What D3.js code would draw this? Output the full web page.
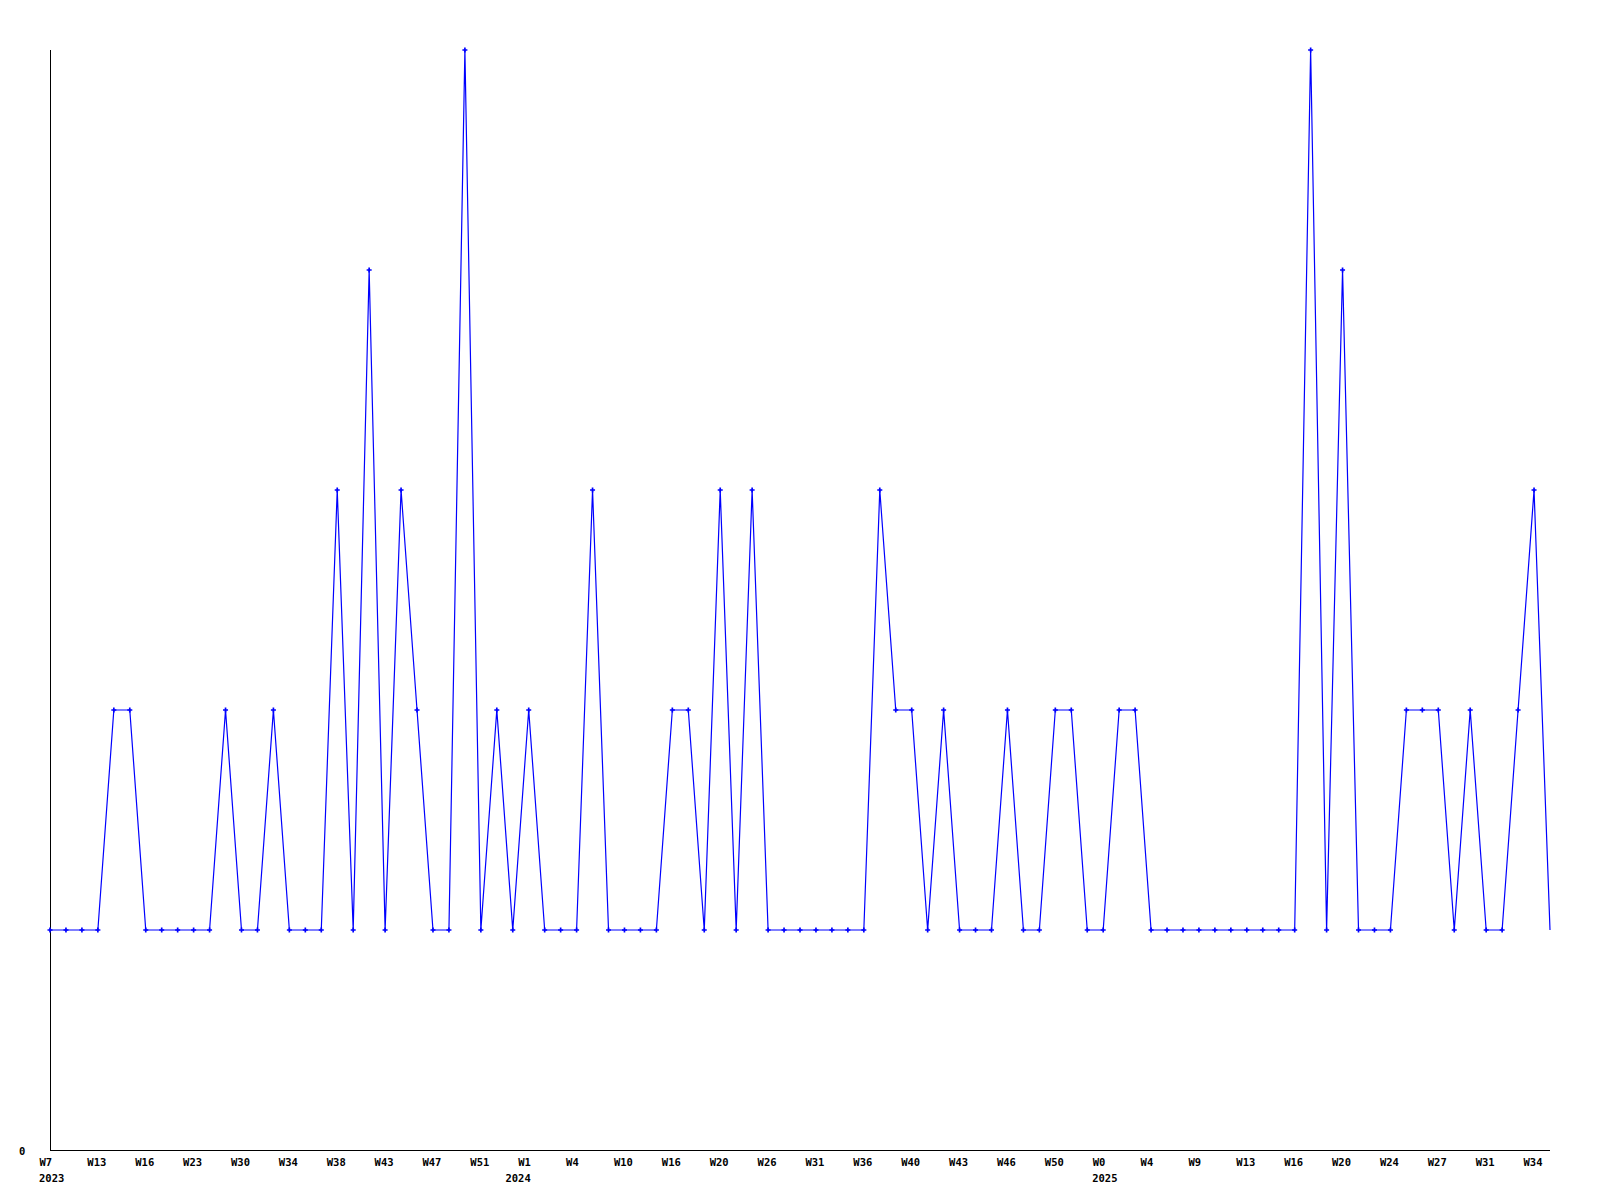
<!DOCTYPE html>
<html>
<head>
<meta charset="utf-8">
<script src="https://cdn.jsdelivr.net/npm/d3@7/dist/d3.min.js"></script>
<style>
  html, body { margin: 0; padding: 0; background: #fff; }
  svg { display: block; }
  text { font-family: "DejaVu Sans Mono", "Liberation Mono", monospace; font-weight: bold; font-size: 10.5px; fill: #000; }
</style>
</head>
<body>
<svg id="chart" width="1600" height="1200"></svg>
<script>
const values = [1,1,1,1,2,2,1,1,1,1,1,2,1,1,2,1,1,1,3,1,4,1,3,2,1,1,5,1,2,1,2,1,1,1,3,1,1,1,1,2,2,1,3,1,3,1,1,1,1,1,1,1,3,2,2,1,2,1,1,1,2,1,1,2,2,1,1,2,2,1,1,1,1,1,1,1,1,1,1,5,1,4,1,1,1,2,2,2,1,2,1,1,2,3,1];
const weekLabels = ["W7","W13","W16","W23","W30","W34","W38","W43","W47","W51","W1","W4","W10","W16","W20","W26","W31","W36","W40","W43","W46","W50","W0","W4","W9","W13","W16","W20","W24","W27","W31","W34"];
const labelStep = 3;
const yearLabels = ["2023","2024","2025"];
const yearIndex = [0, 30, 66];
const yearAnchor = ["start","end","start"];
const yTicks = [0];

const svg = d3.select("#chart");
const x = d3.scaleLinear().domain([0, values.length - 1]).range([50, 1550]);
const y = d3.scaleLinear().domain([0, 5]).range([1150, 50]);

// axes lines
svg.append("line").attr("x1", x(0) + 0.5).attr("x2", x(0) + 0.5)
  .attr("y1", y(5)).attr("y2", y(0) + 0.5).attr("stroke", "#000").attr("stroke-width", 1);
svg.append("line").attr("x1", x(0)).attr("x2", x(values.length - 1))
  .attr("y1", y(0) + 0.5).attr("y2", y(0) + 0.5).attr("stroke", "#000").attr("stroke-width", 1);

// x axis labels
const tickIdx = weekLabels.map((d, i) => i * labelStep);
const xAxis = d3.axisBottom(x).tickValues(tickIdx)
  .tickFormat((d, i) => weekLabels[i]).tickSize(0).tickPadding(0);
const gx = svg.append("g").attr("transform", `translate(0,${y(0)})`).call(xAxis);
gx.select(".domain").remove();
gx.selectAll("text")
  .attr("text-anchor", "start").attr("dx", -11).attr("y", 16).attr("dy", 0)
  .style("font-family", "'DejaVu Sans Mono', monospace").style("font-weight", "bold").style("font-size", "10.5px").attr("fill", "#000");

// year labels
svg.append("g").selectAll("text").data(yearLabels).join("text")
  .attr("x", (d, i) => yearAnchor[i] === "start" ? x(yearIndex[i]) - 11 : x(yearIndex[i]) + 2)
  .attr("y", y(0) + 31.5)
  .attr("text-anchor", (d, i) => yearAnchor[i])
  .text(d => d);

// y axis label
const yAxis = d3.axisLeft(y).tickValues(yTicks).tickSize(0).tickPadding(0).tickFormat(d3.format("d"));
const gy = svg.append("g").attr("transform", `translate(${x(0)},0)`).call(yAxis);
gy.select(".domain").remove();
gy.selectAll("text").attr("text-anchor", "start").attr("x", -31).attr("dy", 0).attr("y", 4)
  .style("font-family", "'DejaVu Sans Mono', monospace").style("font-weight", "bold").style("font-size", "10.5px").attr("fill", "#000");

// line
const line = d3.line().x((d, i) => x(i)).y(d => y(d));
svg.append("path").datum(values).attr("d", line)
  .attr("fill", "none").attr("stroke", "#0000ff").attr("stroke-width", 1.2);

// markers (none on last point)
const sym = d3.symbol().type(d3.symbolCross).size(14);
svg.append("g").selectAll("path").data(values.slice(0, -1)).join("path")
  .attr("transform", (d, i) => `translate(${x(i)},${y(d)})`)
  .attr("d", sym).attr("fill", "#0000ff");
</script>
</body>
</html>
